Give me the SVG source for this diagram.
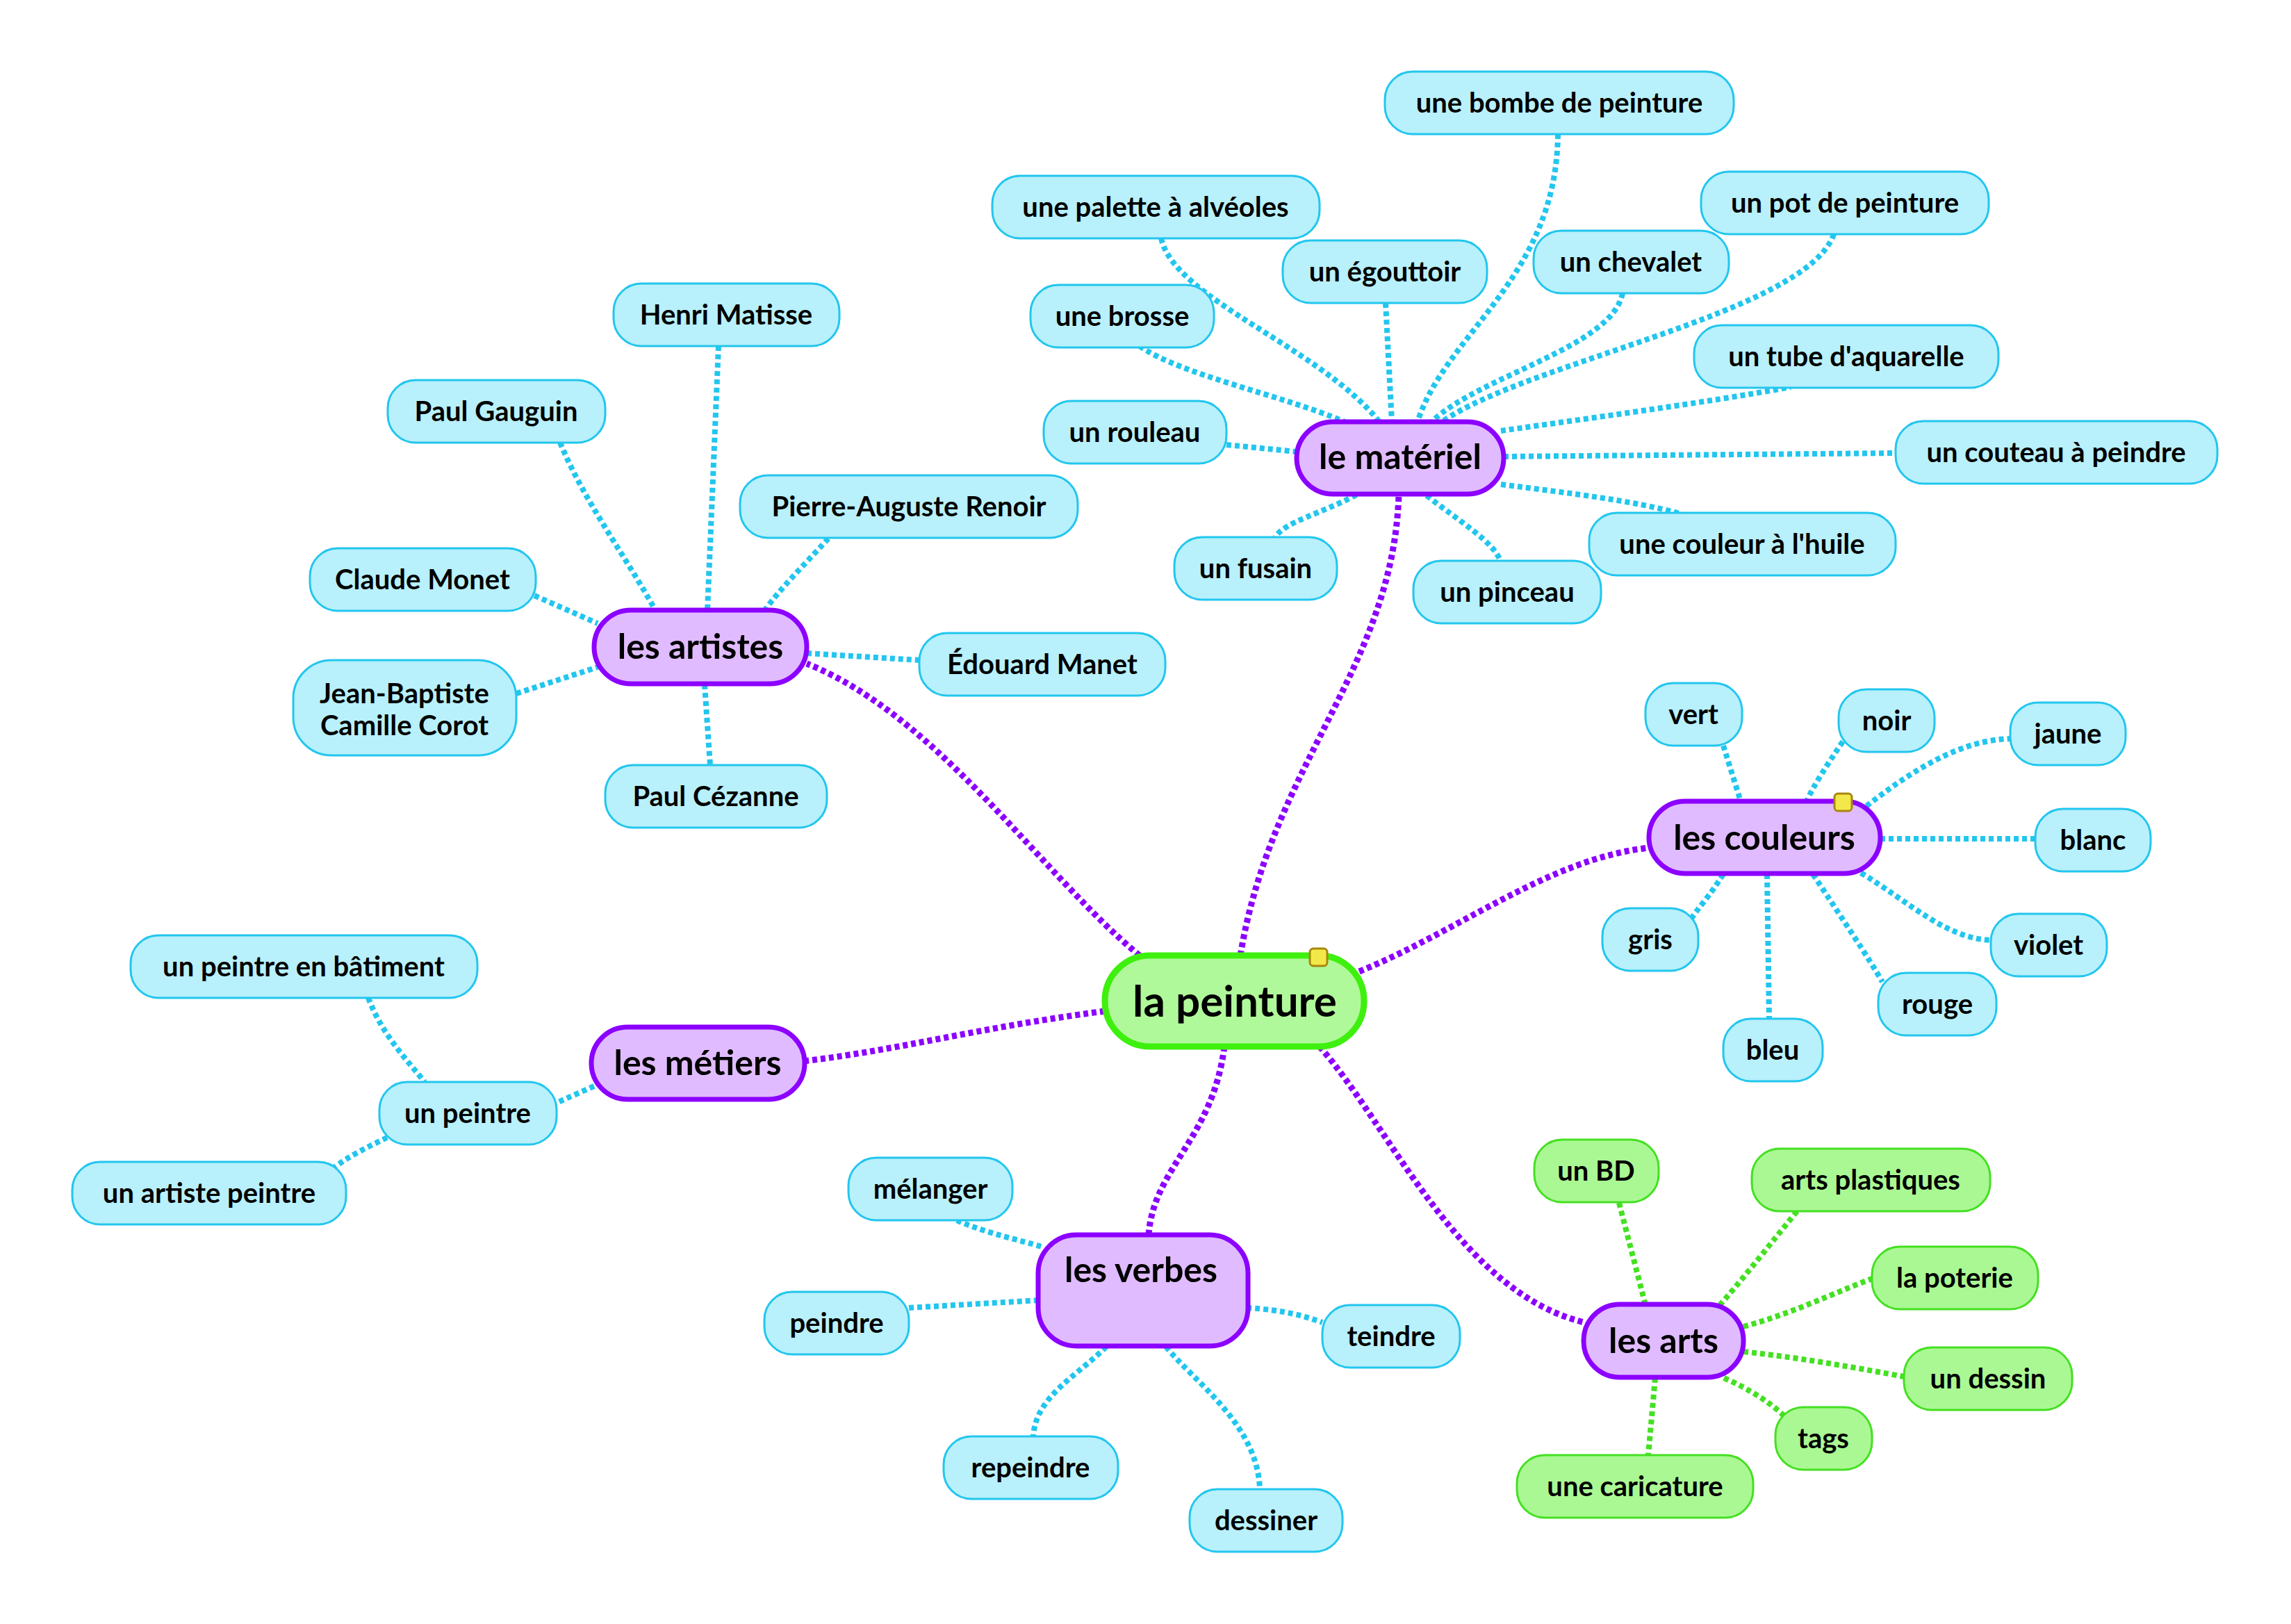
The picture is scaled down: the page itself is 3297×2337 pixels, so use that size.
<svg xmlns="http://www.w3.org/2000/svg" width="3297" height="2337" viewBox="0 0 3297 2337">
<style>
text{font-family:Lato,"Open Sans","Liberation Sans",sans-serif;fill:#000;text-anchor:middle}
.leaf rect{fill:#b8f0fb;stroke:#22c6ee;stroke-width:3}
.gleaf rect{fill:#aaf893;stroke:#44e022;stroke-width:3}
.main rect{fill:#e0bbff;stroke:#8c00ff;stroke-width:7}
.root rect{fill:#b0f99a;stroke:#3ef00e;stroke-width:9}
.leaf text,.gleaf text{font-size:40px;font-weight:700}
.main text{font-size:50px;font-weight:700}
.root text{font-size:62px;font-weight:700}
g rect.note{fill:#f2e84a;stroke:#a8860e;stroke-width:3}
#connectors path{fill:none;stroke-width:8;stroke-dasharray:7 5}
.c{stroke:#22c6ee}
.g{stroke:#44e022}
#connectors .p{stroke:#8c00ff;stroke-width:9}
</style>
<rect width="3297" height="2337" fill="#fff"/>
<g id="connectors">
<path class="p" d="M1785,1375 C1830,1100 2005,960 2013,712"/>
<path class="p" d="M1640,1375 C1500,1260 1350,1030 1161,955"/>
<path class="p" d="M1956,1398 C2100,1340 2230,1235 2373,1220"/>
<path class="p" d="M1590,1455 C1400,1480 1300,1510 1157,1527"/>
<path class="p" d="M1762,1506 C1745,1640 1660,1680 1653,1777"/>
<path class="p" d="M1899,1506 C2000,1620 2100,1860 2280,1903"/>
<path class="c" d="M1671,343 C1690,430 1900,500 1985,607"/>
<path class="c" d="M1640,498 C1700,540 1850,570 1935,607"/>
<path class="c" d="M1994,436 L2003,607"/>
<path class="c" d="M2242,193 C2240,400 2080,480 2040,607"/>
<path class="c" d="M2335,422 C2320,500 2130,540 2060,607"/>
<path class="c" d="M2639,337 C2600,450 2200,520 2075,607"/>
<path class="c" d="M2160,620 C2300,600 2450,580 2577,557"/>
<path class="c" d="M2164,657 L2728,652"/>
<path class="c" d="M2160,697 C2260,710 2350,720 2421,740"/>
<path class="c" d="M2053,713 C2100,750 2150,780 2159,807"/>
<path class="c" d="M1952,712 C1900,740 1850,750 1835,773"/>
<path class="c" d="M1765,640 L1866,650"/>
<path class="c" d="M1034,498 L1018,879"/>
<path class="c" d="M806,637 C840,720 900,800 943,878"/>
<path class="c" d="M1192,775 C1160,810 1120,850 1101,878"/>
<path class="c" d="M769,857 L860,897"/>
<path class="c" d="M743,998 L860,960"/>
<path class="c" d="M1161,940 L1323,950"/>
<path class="c" d="M1014,985 L1022,1101"/>
<path class="c" d="M2480,1073 L2505,1153"/>
<path class="c" d="M2652,1067 C2630,1100 2610,1130 2600,1153"/>
<path class="c" d="M2686,1160 C2750,1110 2820,1065 2893,1063"/>
<path class="c" d="M2706,1207 L2929,1207"/>
<path class="c" d="M2678,1256 C2750,1300 2800,1350 2865,1353"/>
<path class="c" d="M2609,1258 C2650,1320 2690,1380 2709,1413"/>
<path class="c" d="M2543,1258 L2546,1466"/>
<path class="c" d="M2480,1258 C2460,1290 2445,1305 2434,1322"/>
<path class="c" d="M855,1563 L801,1587"/>
<path class="c" d="M530,1436 C550,1490 590,1530 611,1557"/>
<path class="c" d="M557,1637 C530,1650 500,1665 481,1680"/>
<path class="c" d="M1377,1756 C1420,1775 1470,1785 1499,1794"/>
<path class="c" d="M1308,1882 L1497,1871"/>
<path class="c" d="M1794,1882 C1850,1885 1880,1895 1903,1903"/>
<path class="c" d="M1592,1938 C1550,1980 1490,2010 1487,2067"/>
<path class="c" d="M1678,1938 C1720,1990 1810,2050 1813,2143"/>
<path class="g" d="M2330,1731 L2368,1878"/>
<path class="g" d="M2586,1743 C2540,1800 2500,1850 2475,1878"/>
<path class="g" d="M2509,1909 C2580,1890 2640,1860 2694,1840"/>
<path class="g" d="M2509,1945 C2600,1955 2680,1970 2740,1981"/>
<path class="g" d="M2481,1983 C2520,2000 2550,2020 2570,2040"/>
<path class="g" d="M2382,1983 L2372,2094"/>
</g>

<g id="root" class="root"><rect x="1590" y="1375" width="373" height="131" rx="65"/><text x="1777" y="1463">la peinture</text><rect class="note" x="1885" y="1365" width="25" height="25" rx="5"/></g>

<g id="materiel" class="main"><rect x="1866" y="607" width="298" height="104" rx="52"/><text x="2015" y="675">le matériel</text></g>
<g id="artistes" class="main"><rect x="855" y="878" width="306" height="106" rx="53"/><text x="1008" y="948">les artistes</text></g>
<g id="couleurs" class="main"><rect x="2373" y="1153" width="333" height="104" rx="52"/><text x="2539" y="1223">les couleurs</text><rect class="note" x="2640" y="1142" width="25" height="25" rx="5"/></g>
<g id="metiers" class="main"><rect x="851" y="1478" width="307" height="104" rx="52"/><text x="1004" y="1547">les métiers</text></g>
<g id="verbes" class="main"><rect x="1494" y="1777" width="302" height="160" rx="55"/><text x="1642" y="1845">les verbes</text></g>
<g id="arts" class="main"><rect x="2279" y="1877" width="230" height="105" rx="52"/><text x="2394" y="1947">les arts</text></g>

<g id="bombe" class="leaf"><rect x="1993" y="103" width="502" height="90" rx="40"/><text x="2244" y="162">une bombe de peinture</text></g>
<g id="palette" class="leaf"><rect x="1428" y="253" width="471" height="90" rx="40"/><text x="1663" y="312">une palette à alvéoles</text></g>
<g id="egouttoir" class="leaf"><rect x="1846" y="346" width="294" height="90" rx="40"/><text x="1993" y="405">un égouttoir</text></g>
<g id="chevalet" class="leaf"><rect x="2207" y="332" width="281" height="90" rx="40"/><text x="2347" y="391">un chevalet</text></g>
<g id="pot" class="leaf"><rect x="2448" y="247" width="414" height="90" rx="40"/><text x="2655" y="306">un pot de peinture</text></g>
<g id="brosse" class="leaf"><rect x="1483" y="410" width="264" height="90" rx="40"/><text x="1615" y="469">une brosse</text></g>
<g id="tube" class="leaf"><rect x="2438" y="468" width="438" height="90" rx="40"/><text x="2657" y="527">un tube d'aquarelle</text></g>
<g id="rouleau" class="leaf"><rect x="1502" y="577" width="263" height="90" rx="40"/><text x="1633" y="636">un rouleau</text></g>
<g id="couteau" class="leaf"><rect x="2728" y="606" width="463" height="90" rx="40"/><text x="2959" y="665">un couteau à peindre</text></g>
<g id="fusain" class="leaf"><rect x="1690" y="773" width="234" height="90" rx="40"/><text x="1807" y="832">un fusain</text></g>
<g id="pinceau" class="leaf"><rect x="2034" y="807" width="270" height="90" rx="40"/><text x="2169" y="866">un pinceau</text></g>
<g id="huile" class="leaf"><rect x="2287" y="738" width="441" height="90" rx="40"/><text x="2507" y="797">une couleur à l'huile</text></g>

<g id="matisse" class="leaf"><rect x="883" y="408" width="325" height="90" rx="40"/><text x="1045" y="467">Henri Matisse</text></g>
<g id="gauguin" class="leaf"><rect x="558" y="547" width="313" height="90" rx="40"/><text x="714" y="606">Paul Gauguin</text></g>
<g id="renoir" class="leaf"><rect x="1065" y="684" width="486" height="90" rx="40"/><text x="1308" y="743">Pierre-Auguste Renoir</text></g>
<g id="monet" class="leaf"><rect x="446" y="789" width="325" height="90" rx="40"/><text x="608" y="848">Claude Monet</text></g>
<g id="corot" class="leaf"><rect x="422" y="950" width="321" height="137" rx="55"/><text x="582" y="1012">Jean-Baptiste</text><text x="582" y="1058">Camille Corot</text></g>
<g id="manet" class="leaf"><rect x="1323" y="911" width="354" height="90" rx="40"/><text x="1500" y="970">Édouard Manet</text></g>
<g id="cezanne" class="leaf"><rect x="871" y="1101" width="319" height="90" rx="40"/><text x="1030" y="1160">Paul Cézanne</text></g>

<g id="vert" class="leaf"><rect x="2368" y="983" width="139" height="90" rx="40"/><text x="2437" y="1042">vert</text></g>
<g id="noir" class="leaf"><rect x="2646" y="992" width="138" height="90" rx="40"/><text x="2715" y="1051">noir</text></g>
<g id="jaune" class="leaf"><rect x="2893" y="1011" width="166" height="90" rx="40"/><text x="2976" y="1070">jaune</text></g>
<g id="blanc" class="leaf"><rect x="2929" y="1164" width="166" height="90" rx="40"/><text x="3012" y="1223">blanc</text></g>
<g id="gris" class="leaf"><rect x="2306" y="1307" width="138" height="90" rx="40"/><text x="2375" y="1366">gris</text></g>
<g id="violet" class="leaf"><rect x="2865" y="1315" width="167" height="90" rx="40"/><text x="2948" y="1374">violet</text></g>
<g id="rouge" class="leaf"><rect x="2703" y="1400" width="170" height="90" rx="40"/><text x="2788" y="1459">rouge</text></g>
<g id="bleu" class="leaf"><rect x="2480" y="1466" width="143" height="90" rx="40"/><text x="2551" y="1525">bleu</text></g>

<g id="batiment" class="leaf"><rect x="188" y="1346" width="499" height="90" rx="40"/><text x="437" y="1405">un peintre en bâtiment</text></g>
<g id="unpeintre" class="leaf"><rect x="546" y="1557" width="255" height="90" rx="40"/><text x="673" y="1616">un peintre</text></g>
<g id="artistepeintre" class="leaf"><rect x="104" y="1672" width="394" height="90" rx="40"/><text x="301" y="1731">un artiste peintre</text></g>

<g id="melanger" class="leaf"><rect x="1221" y="1666" width="236" height="90" rx="40"/><text x="1339" y="1725">mélanger</text></g>
<g id="peindre" class="leaf"><rect x="1100" y="1859" width="208" height="90" rx="40"/><text x="1204" y="1918">peindre</text></g>
<g id="teindre" class="leaf"><rect x="1903" y="1878" width="198" height="90" rx="40"/><text x="2002" y="1937">teindre</text></g>
<g id="repeindre" class="leaf"><rect x="1358" y="2067" width="251" height="90" rx="40"/><text x="1483" y="2126">repeindre</text></g>
<g id="dessiner" class="leaf"><rect x="1712" y="2143" width="220" height="90" rx="40"/><text x="1822" y="2202">dessiner</text></g>

<g id="bd" class="gleaf"><rect x="2208" y="1640" width="179" height="90" rx="40"/><text x="2297" y="1699">un BD</text></g>
<g id="plastiques" class="gleaf"><rect x="2521" y="1653" width="343" height="90" rx="40"/><text x="2692" y="1712">arts plastiques</text></g>
<g id="poterie" class="gleaf"><rect x="2694" y="1794" width="239" height="90" rx="40"/><text x="2813" y="1853">la poterie</text></g>
<g id="dessin" class="gleaf"><rect x="2740" y="1939" width="242" height="90" rx="40"/><text x="2861" y="1998">un dessin</text></g>
<g id="tags" class="gleaf"><rect x="2555" y="2025" width="139" height="90" rx="40"/><text x="2624" y="2084">tags</text></g>
<g id="caricature" class="gleaf"><rect x="2183" y="2094" width="340" height="90" rx="40"/><text x="2353" y="2153">une caricature</text></g>
</svg>
